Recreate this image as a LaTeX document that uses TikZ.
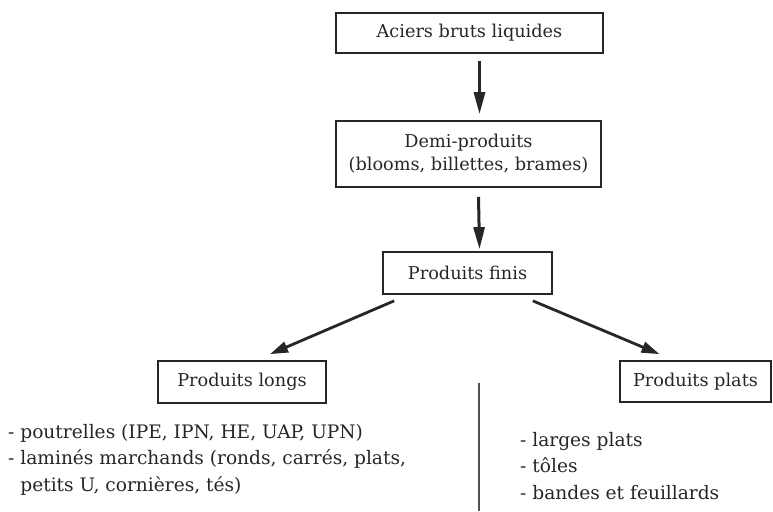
\documentclass[tikz,border=0pt]{standalone}
\usepackage{fontspec}
\setmainfont{DejaVu Serif}
\usetikzlibrary{arrows.meta,calc}
\definecolor{ink}{HTML}{262626}
\tikzset{
  box/.style={draw=ink, line width=1.7pt, rectangle, inner sep=0pt, text=ink, font=\fontsize{17.7}{23}\selectfont, align=center},
  arr/.style={draw=ink, line width=3pt, -{Triangle[length=22pt,width=11pt]}},
  darr/.style={draw=ink, line width=2.8pt, -{Triangle[length=18pt,width=11pt]}},
  items/.style={text=ink, font=\fontsize{18.6}{26.5}\selectfont, align=left, inner sep=0pt, anchor=north west},
}
\begin{document}
\begin{tikzpicture}[x=1pt,y=-1pt]
\useasboundingbox (0,0) rectangle (773,511);
\node[box, minimum width=267pt, minimum height=40pt] (b1) at (469.5,33) {Aciers bruts liquides};
\node[box, minimum width=265pt, minimum height=66pt] (b2) at (468.5,154) {Demi-produits\\(blooms, billettes, brames)};
\node[box, minimum width=169pt, minimum height=42pt] (b3) at (467.5,273) {Produits finis};
\node[box, minimum width=168pt, minimum height=42pt] (pl) at (242,382) {Produits longs};
\node[box, minimum width=151pt, minimum height=41pt] (pp) at (695.5,381.5) {Produits plats};
\draw[arr] ([xshift=10pt,yshift=-7pt]b1.south) -- ([xshift=11pt,yshift=6pt]b2.north);
\draw[arr] ([xshift=10pt,yshift=-9pt]b2.south) -- ([xshift=12pt,yshift=2pt]b3.north);
\draw[darr] ([xshift=12pt,yshift=-6pt]b3.south west) -- ([xshift=28pt,yshift=6pt]pl.north);
\draw[darr] ([xshift=-20pt,yshift=-6pt]b3.south east) -- ([xshift=-36pt,yshift=6pt]pp.north);
\coordinate (vt) at (479,383);
\coordinate (vb) at (479,511);
\draw[ink!80, line width=1.2pt] (vt) -- (vb);
\node[items] (li) at (8,424) {- poutrelles (IPE, IPN, HE, UAP, UPN)\\- laminés marchands (ronds, carrés, plats,\\\phantom{- }petits U, cornières, tés)};
\node[items] (ri) at (520,432) {- larges plats\\- tôles\\- bandes et feuillards};
\end{tikzpicture}
\end{document}
